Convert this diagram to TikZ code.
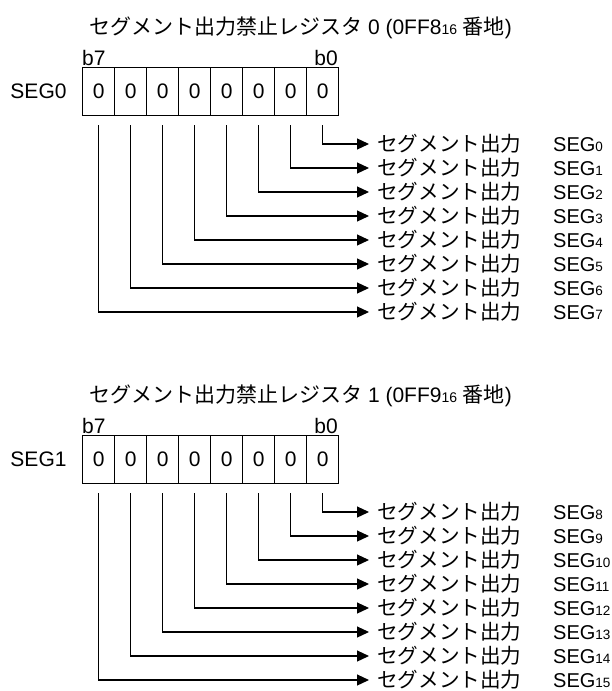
\documentclass[tikz,border=0pt]{standalone}
\usepackage{fontspec}
\setmainfont{Liberation Sans}
\newfontfamily\jp{Noto Sans CJK JP}
\usetikzlibrary{arrows.meta}
\newcommand{\subd}[1]{{\fontsize{14pt}{14pt}\selectfont #1}}
\newcommand{\subl}[1]{{\fontsize{13.5pt}{14pt}\selectfont #1}}
\begin{document}
\begin{tikzpicture}[x=1pt,y=-1pt,
  every node/.style={font=\fontsize{21pt}{24pt}\selectfont, inner sep=0pt},
  cell/.style={draw, line width=1.2pt, minimum width=32pt, minimum height=48pt, anchor=north west},
  lbl/.style={anchor=west, font=\fontsize{20pt}{24pt}\selectfont},
  conn/.style={line width=1.2pt, -{Triangle[length=12pt,width=11pt]}}]
\useasboundingbox (0,0) rectangle (611,691);
\foreach \b/\o/\h in {0/0/8,1/368/9}{
  \node[anchor=base west] (title\b) at (89,34+\o) {{\jp セグメント出力禁止レジスタ} \b{} (0FF\h\subd{16} {\jp 番地})};
  \node (reg\b) at (38.5,91+\o) {SEG\b};
  \foreach \i in {0,...,7}{
    \node[cell] (c\b-\i) at (82+32*\i,67+\o) {0};
  }
  \node[anchor=base west] (hi\b) at (82,65+\o) {b7};
  \node[anchor=base east] (lo\b) at (338,65+\o) {b0};
  \foreach \k in {0,...,7}{
    \pgfmathtruncatemacro{\n}{8*\b+\k}
    \pgfmathtruncatemacro{\col}{7-\k}
    \node[lbl] (l\b-\k) at (377,144+24*\k+\o) {\makebox[176pt][l]{\fontsize{20.6pt}{24pt}\selectfont\jp セグメント出力}SEG\subl{\n}};
    \draw[conn] ([yshift=-9pt]c\b-\col.south) |- ([xshift=-8pt]l\b-\k.west);
  }
}
\end{tikzpicture}
\end{document}
